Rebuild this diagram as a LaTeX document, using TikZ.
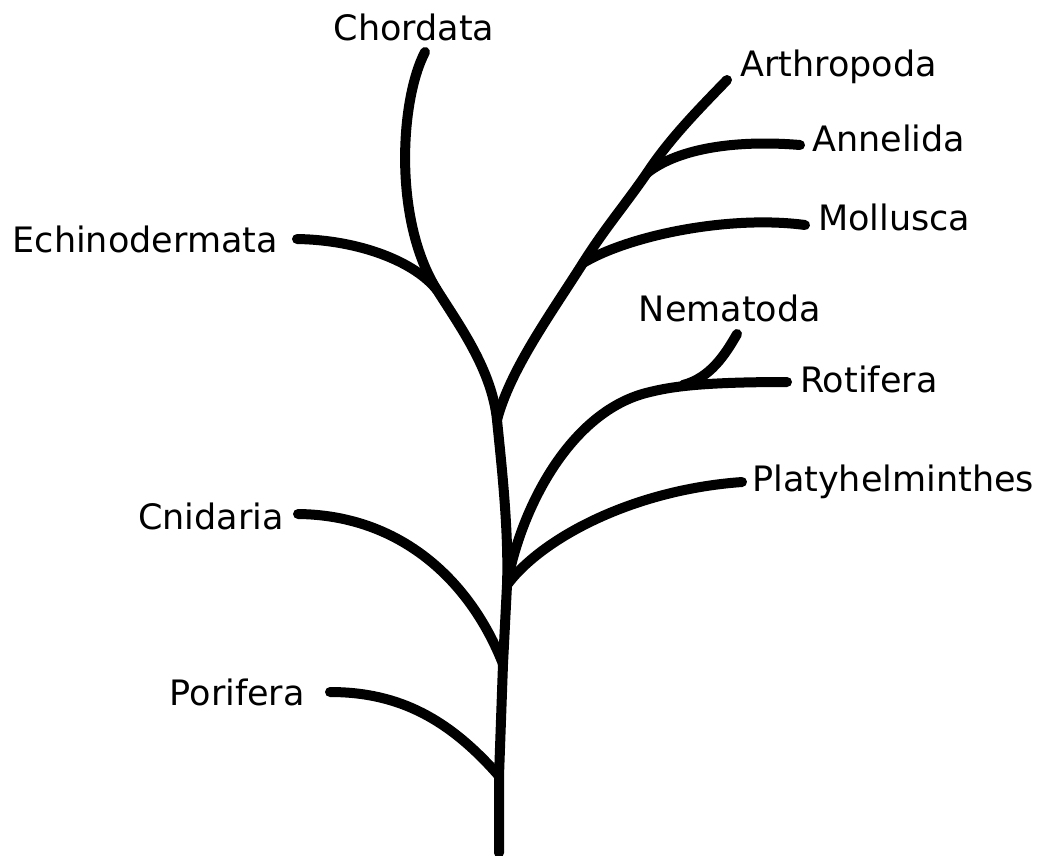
\documentclass[tikz,border=0pt]{standalone}
\usepackage{fontspec}
\setmainfont{DejaVu Sans}
\begin{document}
\begin{tikzpicture}[x=1pt,y=-1pt,
  br/.style={line width=10pt,line cap=round,line join=round,black},
  lbl/.style={inner sep=0pt,font=\fontsize{35}{42}\selectfont}]
\useasboundingbox (0,0) rectangle (1040,855);
% labels
\node[lbl,anchor=base] (chordata) at (414,40) {Chordata};
\node[lbl,anchor=base west] (arthropoda) at (740,76) {Arthropoda};
\node[lbl,anchor=base west] (annelida) at (812,151) {Annelida};
\node[lbl,anchor=base west] (mollusca) at (818,230) {Mollusca};
\node[lbl,anchor=base east] (echino) at (278,252) {Echinodermata};
\node[lbl,anchor=base] (nematoda) at (730,321) {Nematoda};
\node[lbl,anchor=base west] (rotifera) at (800,392) {Rotifera};
\node[lbl,anchor=base west] (platy) at (752,491) {Platyhelminthes};
\node[lbl,anchor=base east] (cnidaria) at (284,529) {Cnidaria};
\node[lbl,anchor=base east] (porifera) at (305,705) {Porifera};
% branch tips
\coordinate (tChor) at (425,52);
\coordinate (tArth) at (727,80);
\coordinate (tAnne) at (800,145);
\coordinate (tMoll) at (805,225);
\coordinate (tEchi) at (297,239);
\coordinate (tNema) at (737,334);
\coordinate (tRoti) at (787,382);
\coordinate (tPlat) at (742,482);
\coordinate (tCnid) at (298,514);
\coordinate (tPori) at (330,692);
% junctions
\coordinate (root) at (499,853);
\coordinate (jPor) at (499,776);
\coordinate (jCni) at (503,664);
\coordinate (jPla) at (507,585);
\coordinate (jTop) at (497,420);
\coordinate (jEch) at (437,290);
\coordinate (jMol) at (583,263);
\coordinate (jAnn) at (647,173);
\coordinate (jN0) at (650,392);
\coordinate (jNem) at (683,385);
% trunk
\draw[br] (root) -- (jPor) -- (jCni) -- (jPla) .. controls (509,530) and (501,460) .. (jTop);
% chordata line
\draw[br] (jTop) .. controls (492,370) and (459,325) .. (jEch)
  .. controls (393,220) and (400,100) .. (tChor);
% echinodermata
\draw[br] (tEchi) .. controls (360,240) and (415,262) .. (jEch);
% arthropod lineage
\draw[br] (jTop) .. controls (510,370) and (550,315) .. (jMol)
  .. controls (605,228) and (625,205) .. (jAnn)
  .. controls (670,138) and (700,108) .. (tArth);
\draw[br] (jAnn) .. controls (680,147) and (740,140) .. (tAnne);
\draw[br] (jMol) .. controls (630,235) and (730,215) .. (tMoll);
% nematoda / rotifera lineage
\draw[br] (jPla) .. controls (520,510) and (570,410) .. (jN0)
  .. controls (670,387) and (700,382) .. (tRoti);
\draw[br] (jNem) .. controls (710,378) and (725,355) .. (tNema);
% platyhelminthes
\draw[br] (jPla) .. controls (540,540) and (630,490) .. (tPlat);
% cnidaria
\draw[br] (tCnid) .. controls (400,515) and (470,580) .. (jCni);
% porifera
\draw[br] (tPori) .. controls (400,692) and (450,720) .. (jPor);
\end{tikzpicture}
\end{document}
